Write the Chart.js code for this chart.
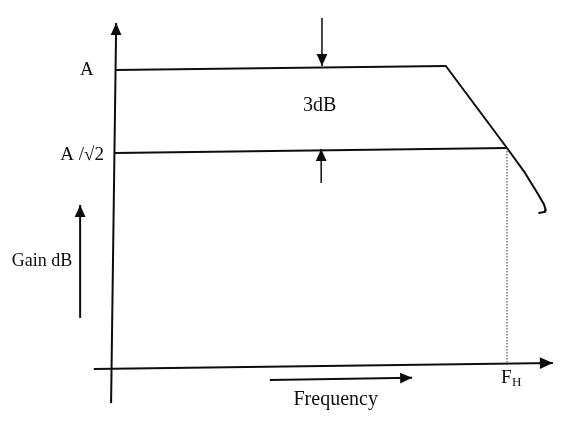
<!DOCTYPE html>
<html lang="en">
<head>
    <meta charset="UTF-8">
    <title>Gain vs Frequency</title>
    <script src="https://cdn.jsdelivr.net/npm/chart.js"></script>
    <style>
        html, body { margin: 0; padding: 0; background: #fff; }
        #wrap { width: 581px; height: 434px; }
    </style>
</head>
<body>
<div id="wrap"><canvas id="gainChart" width="581" height="434"></canvas></div>
<script>
    // frequency in arbitrary units (F_H = 10), gain in arbitrary units (A = 10)
    const passbandA   = [{x: 0, y: 9.97}, {x: 8.44, y: 10.10}];
    const rolloff     = [{x: 8.44, y: 10.10}, {x: 10.0, y: 7.34}, {x: 10.46, y: 6.50}, {x: 10.79, y: 5.79},
                         {x: 10.94, y: 5.45}, {x: 10.99, y: 5.25}, {x: 10.97, y: 5.19}, {x: 10.82, y: 5.15}];
    const halfPower   = [{x: 0, y: 7.17}, {x: 10.0, y: 7.34}];
    const cutoffDrop  = [{x: 10.0, y: 7.34}, {x: 10.0, y: 0.13}];
    const gainAxis    = [{x: -0.10, y: -1.25}, {x: 0.03, y: 11.55}];
    const freqAxis    = [{x: -0.54, y: -0.10}, {x: 11.17, y: 0.10}];
    const arrowDown   = [{x: 5.28, y: 11.72}, {x: 5.28, y: 10.10}];
    const arrowUp     = [{x: 5.26, y: 6.16}, {x: 5.26, y: 7.31}];
    const gainArrow   = [{x: -0.89, y: 1.62}, {x: -0.89, y: 5.42}];
    const freqArrow   = [{x: 3.95, y: -0.47}, {x: 7.58, y: -0.40}];

    const labelText   = ['A', 'A /\u221A2', '3dB', 'Gain dB', 'Frequency'];
    const labelAt     = [{x: -0.72, y: 9.97}, {x: -0.84, y: 7.11}, {x: 5.22, y: 8.76}, {x: -1.86, y: 3.52}, {x: 5.63, y: -1.15}];
    const fhAt        = {x: 10.0, y: -0.40};

    const ink = '#0d0d0d';

    function line(data, extra) {
        return Object.assign({
            data: data, showLine: true, borderColor: ink, borderWidth: 2,
            pointRadius: 0, tension: 0, fill: false
        }, extra || {});
    }

    const decorate = {
        id: 'decorate',
        afterDatasetsDraw(chart) {
            const ctx = chart.ctx;
            const xs = chart.scales.x, ys = chart.scales.y;
            ctx.save();
            ctx.fillStyle = ink;
            // arrow heads on the last point of flagged datasets
            chart.data.datasets.forEach(ds => {
                if (!ds.arrow) return;
                const n = ds.data.length;
                const p = ds.data[n - 1], q = ds.data[n - 2];
                const tx = xs.getPixelForValue(p.x), ty = ys.getPixelForValue(p.y);
                const fx = xs.getPixelForValue(q.x), fy = ys.getPixelForValue(q.y);
                const ang = Math.atan2(ty - fy, tx - fx);
                const len = ds.arrow, half = len * 0.45;
                ctx.beginPath();
                ctx.moveTo(tx, ty);
                ctx.lineTo(tx - len * Math.cos(ang) + half * Math.sin(ang), ty - len * Math.sin(ang) - half * Math.cos(ang));
                ctx.lineTo(tx - len * Math.cos(ang) - half * Math.sin(ang), ty - len * Math.sin(ang) + half * Math.cos(ang));
                ctx.closePath();
                ctx.fill();
            });
            // text
            ctx.textAlign = 'center';
            ctx.textBaseline = 'middle';
            const sizes = [19, 19, 20, 18, 20];
            labelText.forEach((t, i) => {
                ctx.font = sizes[i] + 'px "Liberation Serif", "Times New Roman", serif';
                ctx.fillText(t, xs.getPixelForValue(labelAt[i].x), ys.getPixelForValue(labelAt[i].y));
            });
            const fx = xs.getPixelForValue(fhAt.x), fy = ys.getPixelForValue(fhAt.y);
            ctx.font = '19px "Liberation Serif", "Times New Roman", serif';
            ctx.textAlign = 'left';
            ctx.fillText('F', fx - 6, fy);
            ctx.font = '13px "Liberation Serif", "Times New Roman", serif';
            ctx.fillText('H', fx + 5, fy + 5);
            ctx.restore();
        }
    };

    new Chart(document.getElementById('gainChart'), {
        type: 'scatter',
        data: {
            datasets: [
                line(gainAxis, {arrow: 12}),
                line(freqAxis, {arrow: 13}),
                line(passbandA),
                line(rolloff, {borderJoinStyle: 'round', borderCapStyle: 'round'}),
                line(halfPower),
                line(cutoffDrop, {borderWidth: 1, borderDash: [1.5, 1.5], borderColor: '#333'}),
                line(arrowDown, {borderWidth: 1.5, arrow: 12}),
                line(arrowUp, {borderWidth: 1.5, arrow: 12}),
                line(gainArrow, {borderWidth: 2, arrow: 12}),
                line(freqArrow, {borderWidth: 2, arrow: 12})
            ]
        },
        options: {
            responsive: false,
            animation: false,
            layout: { padding: 0 },
            plugins: { legend: { display: false }, tooltip: { enabled: false } },
            scales: {
                x: { type: 'linear', min: -2.934, max: 11.888, display: false },
                y: { type: 'linear', min: -2.290, max: 12.323, display: false }
            }
        },
        plugins: [decorate]
    });
</script>
</body>
</html>
